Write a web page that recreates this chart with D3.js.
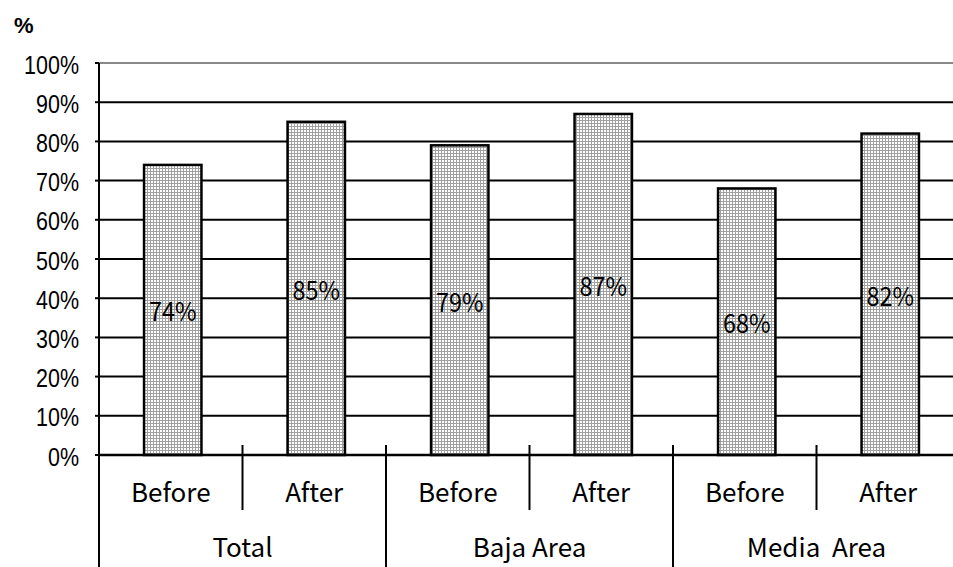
<!DOCTYPE html>
<html>
<head>
<meta charset="utf-8">
<script src="https://cdn.jsdelivr.net/npm/d3@7"></script>
<style>
  html, body { margin: 0; padding: 0; background: #fff; }
  svg { display: block; }
  text { white-space: pre; }
</style>
</head>
<body>
<svg id="chart" width="953" height="567"></svg>
<script>
// Share (%) before and after, by area
const groups = ["Total", "Baja Area", "Media  Area"];
const phases = ["Before", "After"];
const values = [74, 85, 79, 87, 68, 82];
const yTicks = [0, 10, 20, 30, 40, 50, 60, 70, 80, 90, 100];

const rows = [];
groups.forEach((g, gi) => phases.forEach((p, pi) => {
  rows.push({ key: g + "|" + p, group: g, phase: p, value: values[gi * 2 + pi] });
}));

const svg = d3.select("#chart");
const plotLeft = 99, plotRight = 960, plotTop = 63, plotBase = 455;
const jp = "'Noto Sans CJK JP', sans-serif";
const latin = "'Liberation Sans', Arial, sans-serif";

const x = d3.scaleBand().domain(rows.map(d => d.key))
  .range([plotLeft, plotRight]).paddingInner(0.6).paddingOuter(0.3);
const y = d3.scaleLinear().domain([0, 100]).range([plotBase, plotTop]);

// crosshatch fill
const defs = svg.append("defs");
const pat = defs.append("pattern").attr("id", "hatch")
  .attr("patternUnits", "userSpaceOnUse").attr("width", 3).attr("height", 3);
pat.append("rect").attr("width", 3).attr("height", 3).attr("fill", "#fff");
pat.append("path").attr("d", "M0,0.5H3M0.5,0V3")
  .attr("stroke", "#a0a0a0").attr("stroke-width", 1);

// horizontal gridlines
svg.append("g").selectAll("line").data(yTicks).join("line")
  .attr("x1", plotLeft).attr("x2", 953)
  .attr("y1", d => y(d)).attr("y2", d => y(d))
  .attr("stroke", d => d === 100 ? "#888" : "#000")
  .attr("stroke-width", 2);

// tick labels (slightly condensed)
svg.append("g").selectAll("text").data(yTicks).join("text")
  .attr("transform", d => `translate(79,${y(d) + 10.5}) scale(0.86,1)`)
  .attr("text-anchor", "end")
  .attr("font-family", latin)
  .attr("font-size", 25).attr("fill", "#000")
  .text(d => d + "%");

// small tick marks on the y axis
svg.append("g").selectAll("line").data(yTicks).join("line")
  .attr("x1", plotLeft - 4).attr("x2", plotLeft)
  .attr("y1", d => y(d)).attr("y2", d => y(d))
  .attr("stroke", "#000").attr("stroke-width", 2);

// unit
svg.append("text").attr("x", 14).attr("y", 33)
  .attr("font-family", latin)
  .attr("font-size", 22).attr("font-weight", "bold").text("%");

const shift = 2;
// bars
svg.append("g").selectAll("rect").data(rows).join("rect")
  .attr("x", d => x(d.key) + shift).attr("width", x.bandwidth())
  .attr("y", d => y(d.value)).attr("height", d => plotBase - y(d.value))
  .attr("fill", "url(#hatch)").attr("stroke", "#000").attr("stroke-width", 2.5);

// value labels
svg.append("g").selectAll("text").data(rows).join("text")
  .attr("transform", d => `translate(${x(d.key) + shift + x.bandwidth() / 2},${y(d.value / 2) + 11.5}) scale(0.9,1)`)
  .attr("text-anchor", "middle")
  .attr("font-family", jp)
  .attr("font-size", 26).attr("fill", "#000")
  .text(d => d.value + "%");

// y axis line, extended down through the category table
svg.append("line").attr("x1", plotLeft).attr("x2", plotLeft)
  .attr("y1", plotTop).attr("y2", 567).attr("stroke", "#000").attr("stroke-width", 2);

// baseline
svg.append("line").attr("x1", plotLeft).attr("x2", 953)
  .attr("y1", plotBase).attr("y2", plotBase).attr("stroke", "#000").attr("stroke-width", 2.5);

const step = x.step();
const slotStart = i => plotLeft + i * step;

// dividers between phases and between groups
const dividers = d3.range(1, rows.length).map(i => ({ i, major: i % 2 === 0 }));
svg.append("g").selectAll("line").data(dividers).join("line")
  .attr("x1", d => slotStart(d.i)).attr("x2", d => slotStart(d.i))
  .attr("y1", 445).attr("y2", d => d.major ? 567 : 510)
  .attr("stroke", "#000").attr("stroke-width", 2);

// phase labels
svg.append("g").selectAll("text").data(rows).join("text")
  .attr("x", (d, i) => slotStart(i) + step / 2)
  .attr("y", 502).attr("text-anchor", "middle")
  .attr("font-family", jp)
  .attr("font-size", 26).text(d => d.phase);

// group labels
svg.append("g").selectAll("text").data(groups).join("text")
  .attr("x", (d, i) => slotStart(i * 2) + step)
  .attr("y", 557).attr("text-anchor", "middle")
  .attr("font-family", jp)
  .attr("font-size", 26).text(d => d);
</script>
</body>
</html>
